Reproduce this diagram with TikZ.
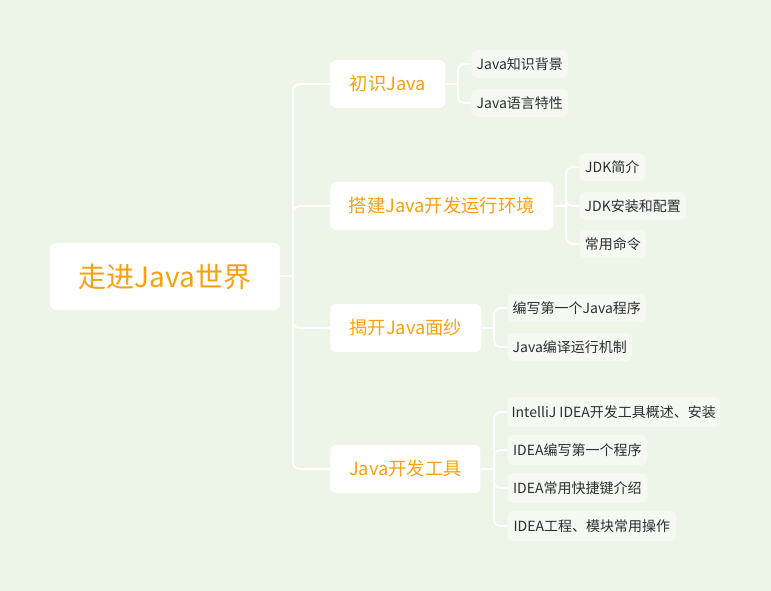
\documentclass[tikz,border=0pt]{standalone}
\usepackage{fontspec}
\setmainfont{Noto Sans CJK SC}
\definecolor{bgc}{HTML}{EDF4E8}
\definecolor{leafc}{HTML}{F5F9F1}
\definecolor{orangec}{HTML}{FAA00F}
\definecolor{textc}{HTML}{2E2E2E}
\tikzset{
	rootbox/.style={fill=white,rounded corners=4.5pt,text=orangec,font=\fontsize{21}{25}\selectfont,minimum height=50.25pt,minimum width=172.5pt,inner sep=0pt},
	mainbox/.style={fill=white,rounded corners=4.5pt,text=orangec,font=\fontsize{13.7}{16}\selectfont,minimum height=36pt,inner sep=0pt,anchor=west},
	leafbox/.style={fill=leafc,rounded corners=4pt,text=textc,font=\fontsize{10.5}{13}\selectfont,minimum height=21pt,inner sep=0pt,anchor=west},
	conn/.style={draw=white,line width=1.5pt,rounded corners=5pt},
}
\begin{document}
\begin{tikzpicture}[x=0.75pt,y=-0.75pt]
	\fill[bgc] (0,0) rectangle (771,591);
	\useasboundingbox (0,0) rectangle (771,591);
	% centre
	\node[rootbox] (root) at (165,276.5) {走进Java世界};
	\coordinate (sp) at (293,276.5);
	% main topics
	\node[mainbox,minimum width=86.25pt] (n1) at (330,84) {初识Java};
	\node[mainbox,minimum width=167.25pt] (n2) at (330,206) {搭建Java开发运行环境};
	\node[mainbox,minimum width=113.25pt] (n3) at (330,328) {揭开Java面纱};
	\node[mainbox,minimum width=112.5pt] (n4) at (330,469) {Java开发工具};
	% subtopics
	\foreach \name/\y/\w/\txt in {n1a/64/72.75/Java知识背景,n1b/103/72.75/Java语言特性}
		\node[leafbox,minimum width=\w pt] (\name) at (471,\y) {\txt};
	\foreach \name/\y/\w/\txt in {n2a/167/49.5/JDK简介,n2b/206/80.25/JDK安装和配置,n2c/244/50.25/常用命令}
		\node[leafbox,minimum width=\w pt] (\name) at (579,\y) {\txt};
	\foreach \name/\y/\w/\txt in {n3a/308/104.25/编写第一个Java程序,n3b/347/93.75/Java编译运行机制}
		\node[leafbox,minimum width=\w pt] (\name) at (507,\y) {\txt};
	\foreach \name/\y/\w/\txt in {n4a/412/159.75/IntelliJ IDEA开发工具概述、安装,n4b/450/105/IDEA编写第一个程序,n4c/488/105/IDEA常用快捷键介绍,n4d/526/126.75/IDEA工程、模块常用操作}
		\node[leafbox,minimum width=\w pt,minimum height=22.5pt] (\name) at (507,\y) {\txt};
	% connectors
	\draw[conn] (root.east) -- (sp);
	\foreach \n in {n1,n2,n3,n4}
		\draw[conn] (sp) |- (\n.west);
	\coordinate (b1) at (458,84);
	\coordinate (b2) at (566,206);
	\coordinate (b3) at (494,328);
	\coordinate (b4) at (494,469);
	\draw[conn] (n1.east) -- (b1);
	\draw[conn] (n2.east) -- (b2);
	\draw[conn] (n3.east) -- (b3);
	\draw[conn] (n4.east) -- (b4);
	\foreach \b/\l in {b1/n1a,b1/n1b,b2/n2a,b2/n2b,b2/n2c,b3/n3a,b3/n3b,b4/n4a,b4/n4b,b4/n4c,b4/n4d}
		\draw[conn] (\b) |- (\l.west);
\end{tikzpicture}
\end{document}
